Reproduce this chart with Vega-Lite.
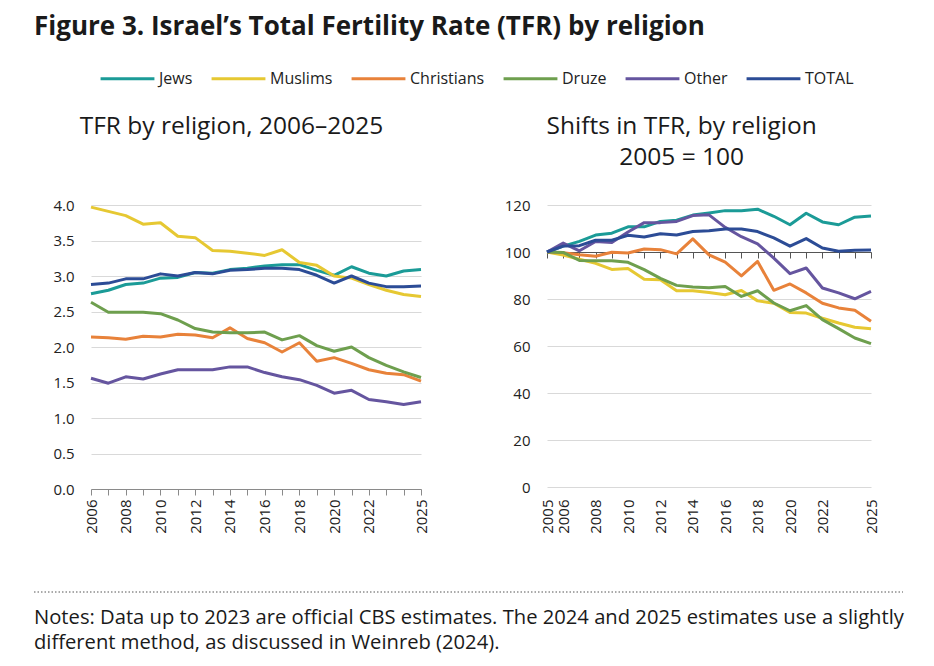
{
  "$schema": "https://vega.github.io/schema/vega-lite/v6.json",
  "background": "white",
  "padding": {"left": 33, "top": 14, "right": 30, "bottom": 8},
  "title": {
    "text": "Figure 3. Israel’s Total Fertility Rate (TFR) by religion",
    "anchor": "start",
    "frame": "group",
    "fontSize": 26,
    "fontWeight": "bold",
    "font": "Open Sans",
    "color": "#1a1a1a",
    "offset": 10,
    "dx": -57
  },
  "datasets": {
    "tfr": [
      {"year": 2006, "series": "Jews", "tfr": 2.75}, {"year": 2007, "series": "Jews", "tfr": 2.80}, {"year": 2008, "series": "Jews", "tfr": 2.88}, {"year": 2009, "series": "Jews", "tfr": 2.90}, {"year": 2010, "series": "Jews", "tfr": 2.97}, {"year": 2011, "series": "Jews", "tfr": 2.98}, {"year": 2012, "series": "Jews", "tfr": 3.05}, {"year": 2013, "series": "Jews", "tfr": 3.04}, {"year": 2014, "series": "Jews", "tfr": 3.09}, {"year": 2015, "series": "Jews", "tfr": 3.11}, {"year": 2016, "series": "Jews", "tfr": 3.14}, {"year": 2017, "series": "Jews", "tfr": 3.16}, {"year": 2018, "series": "Jews", "tfr": 3.16}, {"year": 2019, "series": "Jews", "tfr": 3.08}, {"year": 2020, "series": "Jews", "tfr": 3.01}, {"year": 2021, "series": "Jews", "tfr": 3.13}, {"year": 2022, "series": "Jews", "tfr": 3.04}, {"year": 2023, "series": "Jews", "tfr": 3.00}, {"year": 2024, "series": "Jews", "tfr": 3.07}, {"year": 2025, "series": "Jews", "tfr": 3.09},
      {"year": 2006, "series": "Muslims", "tfr": 3.97}, {"year": 2007, "series": "Muslims", "tfr": 3.91}, {"year": 2008, "series": "Muslims", "tfr": 3.85}, {"year": 2009, "series": "Muslims", "tfr": 3.73}, {"year": 2010, "series": "Muslims", "tfr": 3.75}, {"year": 2011, "series": "Muslims", "tfr": 3.56}, {"year": 2012, "series": "Muslims", "tfr": 3.54}, {"year": 2013, "series": "Muslims", "tfr": 3.36}, {"year": 2014, "series": "Muslims", "tfr": 3.35}, {"year": 2015, "series": "Muslims", "tfr": 3.32}, {"year": 2016, "series": "Muslims", "tfr": 3.29}, {"year": 2017, "series": "Muslims", "tfr": 3.37}, {"year": 2018, "series": "Muslims", "tfr": 3.19}, {"year": 2019, "series": "Muslims", "tfr": 3.15}, {"year": 2020, "series": "Muslims", "tfr": 3.00}, {"year": 2021, "series": "Muslims", "tfr": 2.97}, {"year": 2022, "series": "Muslims", "tfr": 2.88}, {"year": 2023, "series": "Muslims", "tfr": 2.80}, {"year": 2024, "series": "Muslims", "tfr": 2.74}, {"year": 2025, "series": "Muslims", "tfr": 2.71},
      {"year": 2006, "series": "Christians", "tfr": 2.14}, {"year": 2007, "series": "Christians", "tfr": 2.13}, {"year": 2008, "series": "Christians", "tfr": 2.11}, {"year": 2009, "series": "Christians", "tfr": 2.15}, {"year": 2010, "series": "Christians", "tfr": 2.14}, {"year": 2011, "series": "Christians", "tfr": 2.18}, {"year": 2012, "series": "Christians", "tfr": 2.17}, {"year": 2013, "series": "Christians", "tfr": 2.13}, {"year": 2014, "series": "Christians", "tfr": 2.27}, {"year": 2015, "series": "Christians", "tfr": 2.12}, {"year": 2016, "series": "Christians", "tfr": 2.06}, {"year": 2017, "series": "Christians", "tfr": 1.93}, {"year": 2018, "series": "Christians", "tfr": 2.06}, {"year": 2019, "series": "Christians", "tfr": 1.80}, {"year": 2020, "series": "Christians", "tfr": 1.85}, {"year": 2021, "series": "Christians", "tfr": 1.77}, {"year": 2022, "series": "Christians", "tfr": 1.68}, {"year": 2023, "series": "Christians", "tfr": 1.63}, {"year": 2024, "series": "Christians", "tfr": 1.61}, {"year": 2025, "series": "Christians", "tfr": 1.52},
      {"year": 2006, "series": "Druze", "tfr": 2.63}, {"year": 2007, "series": "Druze", "tfr": 2.49}, {"year": 2008, "series": "Druze", "tfr": 2.49}, {"year": 2009, "series": "Druze", "tfr": 2.49}, {"year": 2010, "series": "Druze", "tfr": 2.47}, {"year": 2011, "series": "Druze", "tfr": 2.38}, {"year": 2012, "series": "Druze", "tfr": 2.26}, {"year": 2013, "series": "Druze", "tfr": 2.21}, {"year": 2014, "series": "Druze", "tfr": 2.20}, {"year": 2015, "series": "Druze", "tfr": 2.20}, {"year": 2016, "series": "Druze", "tfr": 2.21}, {"year": 2017, "series": "Druze", "tfr": 2.10}, {"year": 2018, "series": "Druze", "tfr": 2.16}, {"year": 2019, "series": "Druze", "tfr": 2.02}, {"year": 2020, "series": "Druze", "tfr": 1.94}, {"year": 2021, "series": "Druze", "tfr": 2.00}, {"year": 2022, "series": "Druze", "tfr": 1.85}, {"year": 2023, "series": "Druze", "tfr": 1.74}, {"year": 2024, "series": "Druze", "tfr": 1.65}, {"year": 2025, "series": "Druze", "tfr": 1.57},
      {"year": 2006, "series": "Other", "tfr": 1.56}, {"year": 2007, "series": "Other", "tfr": 1.49}, {"year": 2008, "series": "Other", "tfr": 1.58}, {"year": 2009, "series": "Other", "tfr": 1.55}, {"year": 2010, "series": "Other", "tfr": 1.62}, {"year": 2011, "series": "Other", "tfr": 1.68}, {"year": 2012, "series": "Other", "tfr": 1.68}, {"year": 2013, "series": "Other", "tfr": 1.68}, {"year": 2014, "series": "Other", "tfr": 1.72}, {"year": 2015, "series": "Other", "tfr": 1.72}, {"year": 2016, "series": "Other", "tfr": 1.64}, {"year": 2017, "series": "Other", "tfr": 1.58}, {"year": 2018, "series": "Other", "tfr": 1.54}, {"year": 2019, "series": "Other", "tfr": 1.46}, {"year": 2020, "series": "Other", "tfr": 1.35}, {"year": 2021, "series": "Other", "tfr": 1.39}, {"year": 2022, "series": "Other", "tfr": 1.26}, {"year": 2023, "series": "Other", "tfr": 1.23}, {"year": 2024, "series": "Other", "tfr": 1.19}, {"year": 2025, "series": "Other", "tfr": 1.23},
      {"year": 2006, "series": "TOTAL", "tfr": 2.88}, {"year": 2007, "series": "TOTAL", "tfr": 2.90}, {"year": 2008, "series": "TOTAL", "tfr": 2.96}, {"year": 2009, "series": "TOTAL", "tfr": 2.96}, {"year": 2010, "series": "TOTAL", "tfr": 3.03}, {"year": 2011, "series": "TOTAL", "tfr": 3.00}, {"year": 2012, "series": "TOTAL", "tfr": 3.05}, {"year": 2013, "series": "TOTAL", "tfr": 3.03}, {"year": 2014, "series": "TOTAL", "tfr": 3.08}, {"year": 2015, "series": "TOTAL", "tfr": 3.09}, {"year": 2016, "series": "TOTAL", "tfr": 3.11}, {"year": 2017, "series": "TOTAL", "tfr": 3.11}, {"year": 2018, "series": "TOTAL", "tfr": 3.09}, {"year": 2019, "series": "TOTAL", "tfr": 3.01}, {"year": 2020, "series": "TOTAL", "tfr": 2.90}, {"year": 2021, "series": "TOTAL", "tfr": 3.00}, {"year": 2022, "series": "TOTAL", "tfr": 2.90}, {"year": 2023, "series": "TOTAL", "tfr": 2.85}, {"year": 2024, "series": "TOTAL", "tfr": 2.85}, {"year": 2025, "series": "TOTAL", "tfr": 2.86}
    ],
    "shift": [
      {"year": 2005, "series": "Jews", "idx": 100}, {"year": 2006, "series": "Jews", "idx": 102.5}, {"year": 2007, "series": "Jews", "idx": 104.5}, {"year": 2008, "series": "Jews", "idx": 107.2}, {"year": 2009, "series": "Jews", "idx": 108}, {"year": 2010, "series": "Jews", "idx": 110.7}, {"year": 2011, "series": "Jews", "idx": 110.7}, {"year": 2012, "series": "Jews", "idx": 113}, {"year": 2013, "series": "Jews", "idx": 113.5}, {"year": 2014, "series": "Jews", "idx": 115.7}, {"year": 2015, "series": "Jews", "idx": 116.6}, {"year": 2016, "series": "Jews", "idx": 117.6}, {"year": 2017, "series": "Jews", "idx": 117.6}, {"year": 2018, "series": "Jews", "idx": 118.2}, {"year": 2019, "series": "Jews", "idx": 115.2}, {"year": 2020, "series": "Jews", "idx": 111.6}, {"year": 2021, "series": "Jews", "idx": 116.5}, {"year": 2022, "series": "Jews", "idx": 112.8}, {"year": 2023, "series": "Jews", "idx": 111.6}, {"year": 2024, "series": "Jews", "idx": 114.8}, {"year": 2025, "series": "Jews", "idx": 115.3},
      {"year": 2005, "series": "Muslims", "idx": 100}, {"year": 2006, "series": "Muslims", "idx": 98.7}, {"year": 2007, "series": "Muslims", "idx": 96.9}, {"year": 2008, "series": "Muslims", "idx": 95.2}, {"year": 2009, "series": "Muslims", "idx": 92.6}, {"year": 2010, "series": "Muslims", "idx": 93}, {"year": 2011, "series": "Muslims", "idx": 88.4}, {"year": 2012, "series": "Muslims", "idx": 88.2}, {"year": 2013, "series": "Muslims", "idx": 83.5}, {"year": 2014, "series": "Muslims", "idx": 83.5}, {"year": 2015, "series": "Muslims", "idx": 82.8}, {"year": 2016, "series": "Muslims", "idx": 81.8}, {"year": 2017, "series": "Muslims", "idx": 83.6}, {"year": 2018, "series": "Muslims", "idx": 79.2}, {"year": 2019, "series": "Muslims", "idx": 78.2}, {"year": 2020, "series": "Muslims", "idx": 74.3}, {"year": 2021, "series": "Muslims", "idx": 74}, {"year": 2022, "series": "Muslims", "idx": 71.8}, {"year": 2023, "series": "Muslims", "idx": 69.8}, {"year": 2024, "series": "Muslims", "idx": 68}, {"year": 2025, "series": "Muslims", "idx": 67.3},
      {"year": 2005, "series": "Christians", "idx": 100}, {"year": 2006, "series": "Christians", "idx": 99.7}, {"year": 2007, "series": "Christians", "idx": 98.8}, {"year": 2008, "series": "Christians", "idx": 98.2}, {"year": 2009, "series": "Christians", "idx": 99.9}, {"year": 2010, "series": "Christians", "idx": 99.6}, {"year": 2011, "series": "Christians", "idx": 101.3}, {"year": 2012, "series": "Christians", "idx": 101}, {"year": 2013, "series": "Christians", "idx": 99.2}, {"year": 2014, "series": "Christians", "idx": 105.6}, {"year": 2015, "series": "Christians", "idx": 98.8}, {"year": 2016, "series": "Christians", "idx": 95.7}, {"year": 2017, "series": "Christians", "idx": 89.8}, {"year": 2018, "series": "Christians", "idx": 96}, {"year": 2019, "series": "Christians", "idx": 83.7}, {"year": 2020, "series": "Christians", "idx": 86.4}, {"year": 2021, "series": "Christians", "idx": 82.6}, {"year": 2022, "series": "Christians", "idx": 78.2}, {"year": 2023, "series": "Christians", "idx": 76.2}, {"year": 2024, "series": "Christians", "idx": 75.2}, {"year": 2025, "series": "Christians", "idx": 70.5},
      {"year": 2005, "series": "Druze", "idx": 100}, {"year": 2006, "series": "Druze", "idx": 99.8}, {"year": 2007, "series": "Druze", "idx": 96.4}, {"year": 2008, "series": "Druze", "idx": 96.3}, {"year": 2009, "series": "Druze", "idx": 96.3}, {"year": 2010, "series": "Druze", "idx": 95.6}, {"year": 2011, "series": "Druze", "idx": 92.5}, {"year": 2012, "series": "Druze", "idx": 88.8}, {"year": 2013, "series": "Druze", "idx": 85.8}, {"year": 2014, "series": "Druze", "idx": 85.1}, {"year": 2015, "series": "Druze", "idx": 84.8}, {"year": 2016, "series": "Druze", "idx": 85.3}, {"year": 2017, "series": "Druze", "idx": 81.1}, {"year": 2018, "series": "Druze", "idx": 83.5}, {"year": 2019, "series": "Druze", "idx": 78.3}, {"year": 2020, "series": "Druze", "idx": 75}, {"year": 2021, "series": "Druze", "idx": 77.2}, {"year": 2022, "series": "Druze", "idx": 71.2}, {"year": 2023, "series": "Druze", "idx": 67.4}, {"year": 2024, "series": "Druze", "idx": 63.4}, {"year": 2025, "series": "Druze", "idx": 61},
      {"year": 2005, "series": "Other", "idx": 100}, {"year": 2006, "series": "Other", "idx": 103.8}, {"year": 2007, "series": "Other", "idx": 100.5}, {"year": 2008, "series": "Other", "idx": 104.5}, {"year": 2009, "series": "Other", "idx": 104}, {"year": 2010, "series": "Other", "idx": 108.5}, {"year": 2011, "series": "Other", "idx": 112.5}, {"year": 2012, "series": "Other", "idx": 112.5}, {"year": 2013, "series": "Other", "idx": 113}, {"year": 2014, "series": "Other", "idx": 115.5}, {"year": 2015, "series": "Other", "idx": 115.8}, {"year": 2016, "series": "Other", "idx": 110.5}, {"year": 2017, "series": "Other", "idx": 106.5}, {"year": 2018, "series": "Other", "idx": 103.5}, {"year": 2019, "series": "Other", "idx": 97.4}, {"year": 2020, "series": "Other", "idx": 90.8}, {"year": 2021, "series": "Other", "idx": 93.2}, {"year": 2022, "series": "Other", "idx": 84.7}, {"year": 2023, "series": "Other", "idx": 82.6}, {"year": 2024, "series": "Other", "idx": 80.1}, {"year": 2025, "series": "Other", "idx": 83.2},
      {"year": 2005, "series": "TOTAL", "idx": 100}, {"year": 2006, "series": "TOTAL", "idx": 102.5}, {"year": 2007, "series": "TOTAL", "idx": 102.7}, {"year": 2008, "series": "TOTAL", "idx": 105}, {"year": 2009, "series": "TOTAL", "idx": 105}, {"year": 2010, "series": "TOTAL", "idx": 107.1}, {"year": 2011, "series": "TOTAL", "idx": 106.4}, {"year": 2012, "series": "TOTAL", "idx": 107.8}, {"year": 2013, "series": "TOTAL", "idx": 107.2}, {"year": 2014, "series": "TOTAL", "idx": 108.7}, {"year": 2015, "series": "TOTAL", "idx": 109}, {"year": 2016, "series": "TOTAL", "idx": 109.8}, {"year": 2017, "series": "TOTAL", "idx": 109.8}, {"year": 2018, "series": "TOTAL", "idx": 108.7}, {"year": 2019, "series": "TOTAL", "idx": 106}, {"year": 2020, "series": "TOTAL", "idx": 102.5}, {"year": 2021, "series": "TOTAL", "idx": 105.7}, {"year": 2022, "series": "TOTAL", "idx": 101.7}, {"year": 2023, "series": "TOTAL", "idx": 100.3}, {"year": 2024, "series": "TOTAL", "idx": 100.7}, {"year": 2025, "series": "TOTAL", "idx": 100.9}
    ]
  },
  "vconcat": [
    {
      "hconcat": [
        {
          "width": 330,
          "height": 284,
          "title": {"text": ["TFR by religion, 2006–2025", " "]},
          "data": {"name": "tfr"},
          "mark": {"type": "line", "strokeJoin": "round"},
          "encoding": {
            "x": {
              "field": "year", "type": "quantitative", "title": null,
              "scale": {"domain": [2006, 2025], "nice": false, "zero": false},
              "axis": {
                "values": [2006, 2007, 2008, 2009, 2010, 2011, 2012, 2013, 2014, 2015, 2016, 2017, 2018, 2019, 2020, 2021, 2022, 2023, 2024, 2025],
                "labelExpr": "((datum.value % 2 == 0 && datum.value <= 2022) || datum.value == 2025) ? datum.label : ''",
                "format": "d", "labelAngle": -90, "labelFlush": false, "labelOverlap": false,
                "grid": false, "domain": true, "ticks": true, "tickSize": 6, "labelPadding": 4
              }
            },
            "y": {
              "field": "tfr", "type": "quantitative", "title": null,
              "scale": {"domain": [0, 4], "nice": false},
              "axis": {"values": [0, 0.5, 1, 1.5, 2, 2.5, 3, 3.5, 4], "format": ".1f", "domain": false, "ticks": false, "grid": true, "labelPadding": 17, "minExtent": 57}
            },
            "color": {
              "field": "series", "type": "nominal",
              "scale": {"domain": ["Jews", "Muslims", "Christians", "Druze", "Other", "TOTAL"], "range": ["#1b9b97", "#e6c832", "#e8823a", "#6e9f4e", "#65559f", "#2c4c96"]},
              "legend": {"orient": "none", "legendX": 8, "legendY": -155, "direction": "horizontal", "title": null}
            },
            "strokeWidth": {
              "field": "series", "type": "nominal",
              "scale": {"domain": ["Jews", "Muslims", "Christians", "Druze", "Other", "TOTAL"], "range": [3, 3, 3, 3, 3, 6]},
              "legend": {"orient": "none", "legendX": 8, "legendY": -155, "direction": "horizontal", "title": null}
            }
          }
        },
        {
          "width": 324,
          "height": 282,
          "title": {"text": ["Shifts in TFR, by religion", "2005 = 100"], "dx": -10},
          "data": {"name": "shift"},
          "layer": [
            {
              "mark": {"type": "point", "opacity": 0},
              "encoding": {
                "x": {
                  "field": "year", "type": "quantitative", "title": null,
                  "scale": {"domain": [2005, 2025], "nice": false, "zero": false},
                  "axis": {
                    "orient": "top", "offset": -47,
                    "values": [2005, 2006, 2007, 2008, 2009, 2010, 2011, 2012, 2013, 2014, 2015, 2016, 2017, 2018, 2019, 2020, 2021, 2022, 2023, 2024, 2025],
                    "labels": false, "grid": false, "domain": true, "ticks": true, "tickSize": -6,
                    "domainColor": "#555", "tickColor": "#555"
                  }
                },
                "y": {"field": "idx", "type": "quantitative"}
              }
            },
            {
              "mark": {"type": "line", "strokeJoin": "round"},
              "encoding": {
                "x": {
                  "field": "year", "type": "quantitative", "title": null,
                  "scale": {"domain": [2005, 2025], "nice": false, "zero": false},
                  "axis": {
                    "orient": "bottom",
                    "values": [2005, 2006, 2008, 2010, 2012, 2014, 2016, 2018, 2020, 2022, 2025],
                    "format": "d", "labelAngle": -90, "labelFlush": false, "labelOverlap": false,
                    "grid": false, "domain": false, "ticks": false, "labelPadding": 12
                  }
                },
                "y": {
                  "field": "idx", "type": "quantitative", "title": null,
                  "scale": {"domain": [0, 120], "nice": false},
                  "axis": {"values": [0, 20, 40, 60, 80, 100, 120], "domain": false, "ticks": false, "grid": true, "labelPadding": 17, "minExtent": 41}
                },
                "color": {
                  "field": "series", "type": "nominal",
                  "scale": {"domain": ["Jews", "Muslims", "Christians", "Druze", "Other", "TOTAL"], "range": ["#1b9b97", "#e6c832", "#e8823a", "#6e9f4e", "#65559f", "#2c4c96"]},
                  "legend": {"orient": "none", "legendX": 8, "legendY": -155, "direction": "horizontal", "title": null}
                },
                "strokeWidth": {
                  "field": "series", "type": "nominal",
                  "scale": {"domain": ["Jews", "Muslims", "Christians", "Druze", "Other", "TOTAL"], "range": [3, 3, 3, 3, 3, 6]},
                  "legend": {"orient": "none", "legendX": 8, "legendY": -155, "direction": "horizontal", "title": null}
                }
              }
            }
          ],
          "resolve": {"axis": {"x": "independent"}}
        }
      ],
      "spacing": 75
    },
    {
      "width": 812,
      "height": 1,
      "data": {"values": [{"part": "separator"}]},
      "mark": {"type": "rule", "strokeDash": [1.5, 2], "color": "#555", "strokeWidth": 1},
      "encoding": {
        "x": {"datum": -57, "type": "quantitative", "scale": {"domain": [0, 812], "nice": false, "zero": false}, "axis": null},
        "x2": {"datum": 812},
        "y": {"datum": 0, "type": "quantitative", "axis": null}
      },
      "title": {
        "text": ["Notes: Data up to 2023 are official CBS estimates. The 2024 and 2025 estimates use a slightly", "different method, as discussed in Weinreb (2024)."],
        "orient": "bottom", "anchor": "start", "frame": "group", "dx": -57,
        "fontSize": 20.2, "fontWeight": "normal", "lineHeight": 25, "offset": 15, "color": "#1a1a1a"
      }
    }
  ],
  "spacing": 57,
  "config": {
    "font": "Open Sans",
    "view": {"stroke": null},
    "axis": {"labelFont": "Open Sans", "labelFontSize": 15, "labelColor": "#222", "gridColor": "#d9d9d9", "domainColor": "#8a8a8a", "tickColor": "#8a8a8a"},
    "title": {"font": "Open Sans", "fontSize": 24.5, "fontWeight": "normal", "color": "#1a1a1a", "lineHeight": 31, "anchor": "middle", "frame": "bounds", "offset": 28},
    "legend": {"symbolType": "stroke", "symbolSize": 2900, "labelFont": "Open Sans", "labelFontSize": 16, "labelColor": "#222", "labelOffset": 3, "columnPadding": 12, "padding": 0}
  }
}
